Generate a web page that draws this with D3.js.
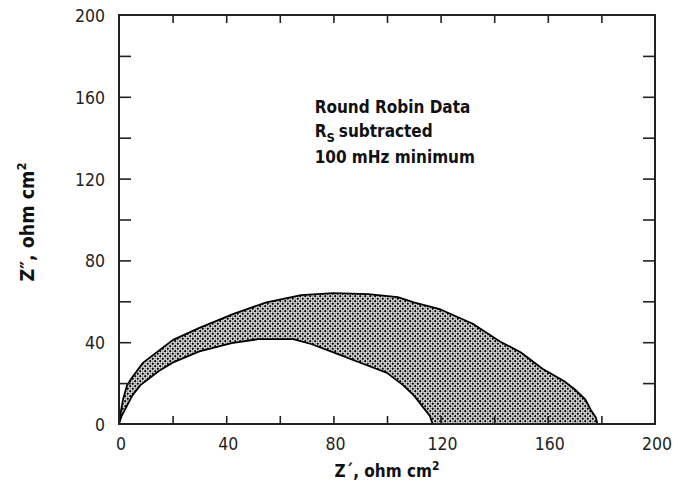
<!DOCTYPE html>
<html>
<head>
<meta charset="utf-8">
<script src="https://cdn.jsdelivr.net/npm/d3@7"></script>
<style>
  body { margin: 0; background: #fff; }
  .tick-label { font-family: "DejaVu Sans Condensed", "DejaVu Sans", sans-serif; font-size: 17.5px; fill: #222; }
  .title { font-family: "DejaVu Sans Condensed", "DejaVu Sans", sans-serif; font-weight: bold; font-size: 17px; fill: #111; }
</style>
</head>
<body>
<svg id="chart" width="677" height="493"></svg>
<script>
// DATA: outer and inner boundary of the shaded Nyquist band (Z', Z'')
const outerZr = [0, 0.7, 1.5, 3, 5, 9, 15, 20, 30, 43, 55, 68, 80, 93, 104, 110, 120, 132, 142, 150, 158, 166, 170, 174, 176, 178, 178.5];
const outerZi = [0, 6, 12, 19, 23, 30, 36, 41, 47, 54, 59.5, 63, 64, 63.5, 62, 59.5, 56, 49, 40.5, 35, 27, 21, 17, 12, 7, 3, 0];
const innerZr = [0, 1, 3, 5, 8, 15, 20, 30, 42, 52, 65, 72, 80, 93, 100, 106, 110, 113, 116, 117];
const innerZi = [0, 4, 9, 14, 19, 26, 30, 35.5, 39.5, 41.5, 41.5, 39, 35, 28.5, 25, 19, 14, 9, 4, 0];

const majorTicks = [0, 40, 80, 120, 160, 200];
const minorTicks = [20, 40, 60, 80, 100, 120, 140, 160, 180];

const noteLines = ["Round Robin Data", "subtracted", "100 mHz minimum"];

// SETUP
const margin = { top: 15, right: 22, bottom: 69, left: 119 },
    width = 677 - margin.left - margin.right,
    height = 493 - margin.top - margin.bottom;

const svg = d3.select("#chart");

// checkered dot fill
const defs = svg.append("defs");
const pat = defs.append("pattern")
    .attr("id", "dots")
    .attr("patternUnits", "userSpaceOnUse")
    .attr("width", 5)
    .attr("height", 5);
pat.append("rect").attr("width", 5).attr("height", 5).attr("fill", "#f4f4f4");
pat.append("circle").attr("cx", 1.25).attr("cy", 1.25).attr("r", 1.15).attr("fill", "#000");
pat.append("circle").attr("cx", 3.75).attr("cy", 3.75).attr("r", 1.15).attr("fill", "#000");
pat.append("circle").attr("cx", 3.75).attr("cy", 1.25).attr("r", 0.9).attr("fill", "#999");
pat.append("circle").attr("cx", 1.25).attr("cy", 3.75).attr("r", 0.9).attr("fill", "#999");

const g = svg.append("g")
    .attr("transform", `translate(${margin.left},${margin.top})`);

// SCALES
const x = d3.scaleLinear().domain([0, 200]).range([0, width]);
const y = d3.scaleLinear().domain([0, 200]).range([height, 0]);

// BAND: outer curve out, inner curve back
const outer = outerZr.map((v, i) => ({ zr: v, zi: outerZi[i] }));
const inner = innerZr.map((v, i) => ({ zr: v, zi: innerZi[i] }));
const band = outer.concat(inner.slice().reverse());

const line = d3.line()
    .x(d => x(d.zr))
    .y(d => y(d.zi))
    .curve(d3.curveLinearClosed);

g.append("path")
    .datum(band)
    .attr("d", line)
    .attr("fill", "url(#dots)")
    .attr("stroke", "#000")
    .attr("stroke-width", 1.8)
    .attr("stroke-linejoin", "round");

// AXES (inward ticks on all four sides)
g.append("g")
    .attr("transform", `translate(0,${height})`)
    .call(d3.axisBottom(x).tickValues(minorTicks).tickSize(-8).tickFormat(""))
    .call(a => a.select(".domain").remove());
g.append("g")
    .call(d3.axisTop(x).tickValues(minorTicks).tickSize(-8).tickFormat(""))
    .call(a => a.select(".domain").remove());
g.append("g")
    .call(d3.axisLeft(y).tickValues(minorTicks).tickSize(-12).tickFormat(""))
    .call(a => a.select(".domain").remove());
g.append("g")
    .attr("transform", `translate(${width},0)`)
    .call(d3.axisRight(y).tickValues(minorTicks).tickSize(-12).tickFormat(""))
    .call(a => a.select(".domain").remove());
g.selectAll(".tick line").attr("stroke", "#222").attr("stroke-width", 1.6);

// frame
g.append("rect")
    .attr("width", width)
    .attr("height", height)
    .attr("fill", "none")
    .attr("stroke", "#222")
    .attr("stroke-width", 2);

// tick labels
g.selectAll(".xlab")
    .data(majorTicks)
    .enter()
    .append("text")
    .attr("class", "tick-label")
    .attr("text-anchor", "middle")
    .attr("x", d => x(d) + 2)
    .attr("y", height + 26)
    .text(d => d);

g.selectAll(".ylab")
    .data(majorTicks)
    .enter()
    .append("text")
    .attr("class", "tick-label")
    .attr("text-anchor", "end")
    .attr("x", -14)
    .attr("y", d => y(d) + 7)
    .text(d => d);

// AXIS TITLES
const xt = svg.append("text")
    .attr("class", "title")
    .attr("text-anchor", "middle")
    .attr("font-size", 18)
    .attr("x", 387)
    .attr("y", 477);
xt.append("tspan").text("Z\u00b4, ohm cm");
xt.append("tspan").attr("dy", -7).attr("font-size", 12).text("2");

const yt = svg.append("text")
    .attr("class", "title")
    .attr("text-anchor", "middle")
    .style("font-size", "19.5px")
    .attr("transform", "translate(34,222) rotate(-90)");
yt.append("tspan").text("Z\u2033, ohm cm");
yt.append("tspan").attr("dy", -8).style("font-size", "13px").text("2");

// NOTE
const note = g.append("g");
note.append("text").attr("class", "title").attr("x", x(73)).attr("y", 98).text(noteLines[0]);
const l2 = note.append("text").attr("class", "title").attr("x", x(73)).attr("y", 122);
l2.append("tspan").text("R");
l2.append("tspan").attr("dy", 5).style("font-size", "13px").text("S");
l2.append("tspan").attr("dy", -5).attr("dx", 4).text(noteLines[1]);
note.append("text").attr("class", "title").attr("x", x(73)).attr("y", 148).text(noteLines[2]);
</script>
</body>
</html>
